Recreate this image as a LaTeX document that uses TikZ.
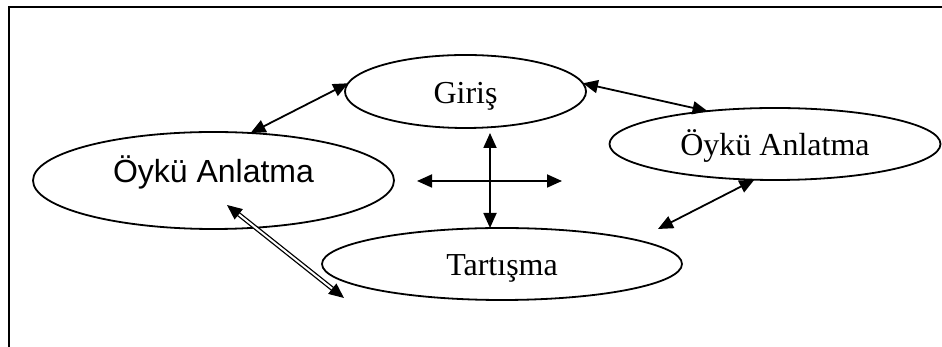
\documentclass[tikz,border=0pt]{standalone}
\usepackage{fontspec}
\setmainfont{Liberation Serif}
\newfontfamily\arialfont{Liberation Sans}
\usepackage{tikz}
\usetikzlibrary{shapes.geometric, arrows.meta}
\tikzset{stage/.style={ellipse, draw, fill=white, line width=1.8pt, inner sep=0pt, outer sep=0pt, font=\fontsize{32}{36}\selectfont, text height=24pt, text depth=0pt}}

\begin{document}
\begin{tikzpicture}[x=1pt, y=1pt, >={Triangle[length=15pt,width=13pt]}, line width=1.8pt]
\useasboundingbox (0,0) rectangle (942,347);
\draw (9,0) -- (9,340) -- (942,340);
\node[stage, minimum width=241pt, minimum height=73pt] (giris) at (465.5,255.5) {Giriş};
\node[stage, minimum width=361pt, minimum height=97pt, font=\arialfont\fontsize{32}{36}\selectfont, text height=5pt] (oykuL) at (213.5,166.5) {Öykü Anlatma};
\node[stage, minimum width=331pt, minimum height=72pt] (oykuR) at (775,203) {Öykü Anlatma};
\node[stage, minimum width=360pt, minimum height=72pt] (tartisma) at (502,83) {Tartışma};
\coordinate (crossN) at (490,214);
\coordinate (crossS) at (490,119);
\coordinate (crossW) at (417,166);
\coordinate (crossE) at (562,166);
\coordinate (freeR) at (658,118);
\coordinate (dblA) at (227,142);
\coordinate (dblB) at (344,49);
\draw[<->] (oykuL.52) -- (giris.176);
\draw[<->] (giris.4) -- (oykuR.154);
\draw[<->] (oykuR.240) -- (freeR);
\draw[<->] (crossN) -- (crossS);
\draw[<->] (crossW) -- (crossE);
\draw[<->, double, double distance=2pt, line width=1.3pt] (dblA) -- (dblB);
\end{tikzpicture}
\end{document}
